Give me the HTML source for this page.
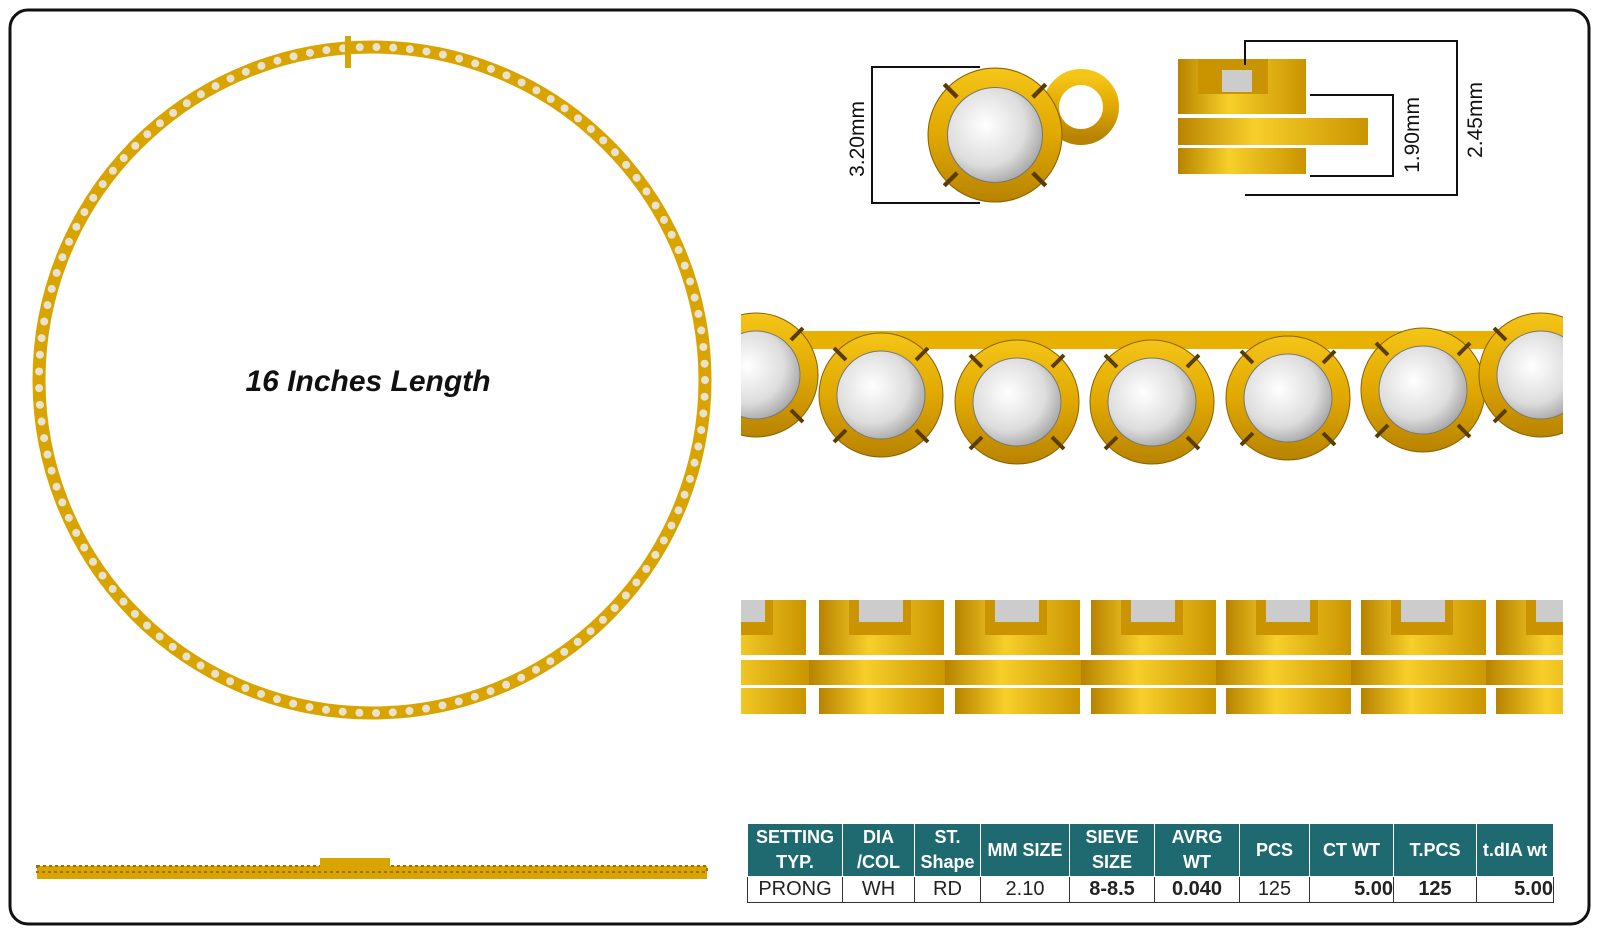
<!DOCTYPE html>
<html><head><meta charset="utf-8"><style>
html,body{margin:0;padding:0;background:#fff;}
body{width:1600px;height:935px;position:relative;overflow:hidden;font-family:"Liberation Sans",sans-serif;}
.t{position:absolute;border-collapse:collapse;left:747px;top:824px;width:807px;font-family:"Liberation Sans Narrow","Liberation Sans",sans-serif;}
.t td{border:1px solid #333;text-align:center;padding:0;font-size:18px;}
.t tr.h td{background:#1e6a70;color:#fff;font-weight:bold;height:52px;line-height:25px;border-color:#fff;border-top:none}
.t tr.d td{height:25px;color:#222;}
</style></head><body>
<svg width="1600" height="935" style="position:absolute;left:0;top:0">
<defs>
<linearGradient id="g" x1="0" y1="0" x2="0" y2="1"><stop offset="0" stop-color="#f5c518"/><stop offset=".5" stop-color="#e0a800"/><stop offset="1" stop-color="#b88300"/></linearGradient>
<linearGradient id="gh" x1="0" y1="0" x2="1" y2="0"><stop offset="0" stop-color="#b88300"/><stop offset=".4" stop-color="#f7cf2a"/><stop offset="1" stop-color="#c99400"/></linearGradient>
<radialGradient id="st" cx=".4" cy=".4" r=".7"><stop offset="0" stop-color="#fff"/><stop offset=".6" stop-color="#ddd"/><stop offset="1" stop-color="#999"/></radialGradient>
<g id="u">
<circle r="62" fill="url(#g)" stroke="#8a6200" stroke-width="1"/>
<circle r="44" fill="url(#st)" stroke="#777" stroke-width="1"/>
<g stroke="#5a3c00" stroke-width="4"><line x1="-35" y1="-35" x2="-47" y2="-47"/><line x1="35" y1="-35" x2="47" y2="-47"/><line x1="-35" y1="35" x2="-47" y2="47"/><line x1="35" y1="35" x2="47" y2="47"/></g>
</g>
<g id="s">
<rect x="0" y="0" width="125" height="55" fill="url(#gh)"/>
<rect x="30" y="0" width="62" height="35" fill="#c99400"/>
<rect x="40" y="0" width="44" height="22" fill="#ccc"/>
<rect x="-10" y="60" width="140" height="25" fill="url(#gh)"/>
<rect x="0" y="88" width="125" height="26" fill="url(#gh)"/>
</g>
</defs>
<rect x="10" y="10" width="1579" height="914" rx="18" fill="none" stroke="#111" stroke-width="3"/>
<circle cx="372" cy="380" r="333" fill="none" stroke="#d9a400" stroke-width="13"/>
<circle cx="372" cy="380" r="333" fill="none" stroke="#e8e2d0" stroke-width="8" stroke-dasharray="0 16.74" stroke-linecap="round"/>
<rect x="345" y="36" width="6" height="32" fill="#d9a400"/>
<text x="368" y="391" text-anchor="middle" font-size="30" font-weight="bold" font-style="italic" fill="#111">16 Inches Length</text>
<rect x="37" y="866" width="670" height="13" fill="#d9a400"/>
<rect x="37" y="866" width="670" height="6" fill="none" stroke="#a07000" stroke-width="2" stroke-dasharray="3 3"/>
<rect x="320" y="858" width="70" height="9" fill="#d9a400"/>
<circle cx="1081" cy="107" r="30" fill="none" stroke="url(#g)" stroke-width="16"/>
<use href="#u" transform="translate(995,135) scale(1.08)"/>
<polyline points="980,67 872,67 872,203 980,203" fill="none" stroke="#111" stroke-width="2"/>
<text transform="translate(864,139) rotate(-90)" text-anchor="middle" font-size="21" fill="#111">3.20mm</text>
<rect x="1178" y="59" width="128" height="55" fill="url(#gh)"/>
<rect x="1198" y="59" width="70" height="35" fill="#c99400"/>
<rect x="1222" y="70" width="30" height="22" fill="#ccc"/>
<rect x="1178" y="118" width="190" height="27" fill="url(#gh)"/>
<rect x="1178" y="148" width="128" height="26" fill="url(#gh)"/>
<polyline points="1245,65 1245,41 1457,41 1457,195 1245,195" fill="none" stroke="#111" stroke-width="2"/>
<polyline points="1310,95 1393,95 1393,176 1310,176" fill="none" stroke="#111" stroke-width="2"/>
<text transform="translate(1419,135) rotate(-90)" text-anchor="middle" font-size="21" fill="#111">1.90mm</text>
<text transform="translate(1482,120) rotate(-90)" text-anchor="middle" font-size="21" fill="#111">2.45mm</text>
<svg x="741" y="310" width="822" height="180" overflow="hidden">
<path d="M20,30 L800,30" stroke="#e8b000" stroke-width="18" fill="none"/>
<use href="#u" transform="translate(15,65)"/>
<use href="#u" transform="translate(140,85)"/>
<use href="#u" transform="translate(276,92)"/>
<use href="#u" transform="translate(411,92)"/>
<use href="#u" transform="translate(547,88)"/>
<use href="#u" transform="translate(682,80)"/>
<use href="#u" transform="translate(800,65)"/>
</svg>
<svg x="741" y="600" width="822" height="115" overflow="hidden">
<use href="#s" x="-60" y="0"/><use href="#s" x="78" y="0"/><use href="#s" x="214" y="0"/><use href="#s" x="350" y="0"/><use href="#s" x="485" y="0"/><use href="#s" x="620" y="0"/><use href="#s" x="755" y="0"/>
</svg>
</svg>
<table class="t">
<tr class="h"><td style="width:94px">SETTING<br>TYP.</td><td style="width:71px">DIA<br>/COL</td><td style="width:65px">ST.<br>Shape</td><td style="width:88px">MM SIZE</td><td style="width:84px">SIEVE<br>SIZE</td><td style="width:84px">AVRG<br>WT</td><td style="width:69px">PCS</td><td style="width:83px">CT WT</td><td style="width:82px">T.PCS</td><td>t.dIA wt</td></tr>
<tr class="d"><td style="font-size:20px">PRONG</td><td style="font-size:20px">WH</td><td style="font-size:20px">RD</td><td style="font-size:20px">2.10</td><td style="font-weight:bold;font-size:20px">8-8.5</td><td style="font-weight:bold;font-size:20px">0.040</td><td style="font-size:20px">125</td><td style="font-weight:bold;font-size:20px;text-align:right">5.00</td><td style="font-weight:bold;font-size:20px">125</td><td style="font-weight:bold;font-size:20px;text-align:right">5.00</td></tr>
</table>
</body></html>
